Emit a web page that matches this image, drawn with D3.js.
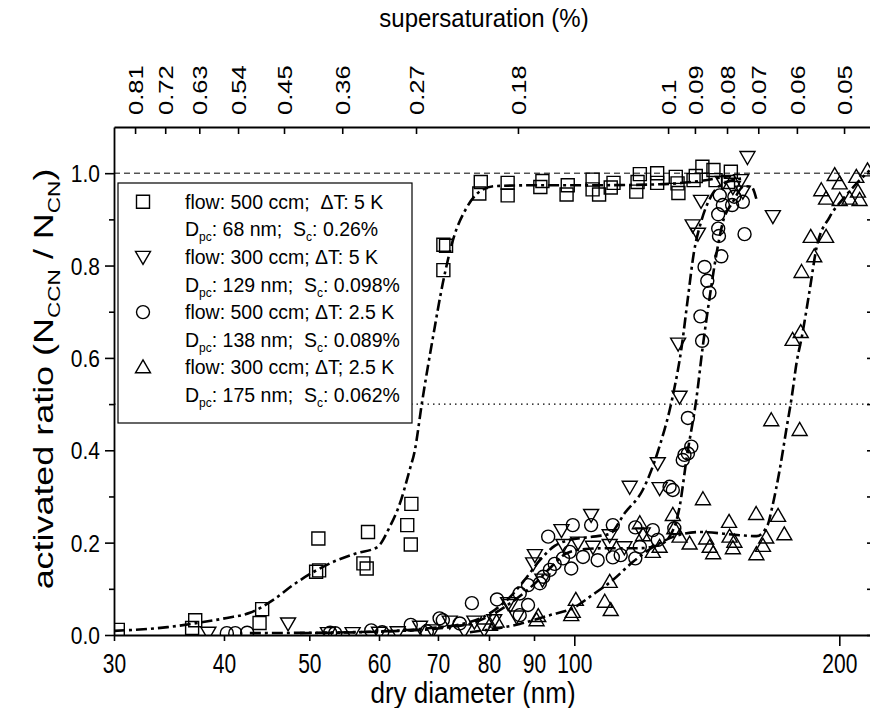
<!DOCTYPE html>
<html>
<head>
<meta charset="utf-8">
<script src="https://cdn.jsdelivr.net/npm/d3@7"></script>
<style>
  body { margin: 0; background: #fff; }
  svg { display: block; }
  text { font-family: "Liberation Sans", Arial, Helvetica, sans-serif; fill: #000; }
</style>
</head>
<body>
<div id="chart"></div>
<script>
// measured points: [dry diameter (nm), activated ratio]
var squares = [[30.3,0.011],[37.1,0.032],[36.8,0.015],[43.9,0.026],[44.2,0.056],[50.9,0.137],[51.3,0.14],
  [51.2,0.209],[58.3,0.223],[57.6,0.155],[58.1,0.144],[64.6,0.238],[65.3,0.284],[65.2,0.196],
  [71.0,0.845],[71.5,0.843],[71.0,0.79],[78.3,0.981],[78.0,0.956],[84.0,0.979],[84.0,0.952],
  [91.5,0.97],[92,0.983],[98.3,0.974],[98.0,0.954],[104.9,0.986],[104.9,0.965],[106.7,0.954],
  [110.8,0.979],[110,0.969],[117.6,0.96],[118.7,0.998],[118,0.981],[124.2,1.0],[124.2,0.979],
  [130.4,0.992],[131,0.978],[131.3,0.957],[136.6,0.985],[137.4,0.994],[139.8,1.014],
  [143.9,1.007],[144.7,0.985],[150.6,1.003],[149.5,0.981]];

var downTri = [[38.4,0.005],[47.3,0.025],[52.5,0.004],[56,0.004],[60,0.005],[63,0.006],[66.8,0.018],
  [69,0.01],[72.2,0.029],[75,0.01],[77,0.029],[79,0.012],[81.1,0.032],[84.1,0.069],[84.6,0.065],
  [86,0.04],[89.8,0.155],[90.2,0.173],[92,0.12],[96.7,0.227],[97.2,0.195],[101,0.2],[104.5,0.26],
  [105,0.191],[109.7,0.216],[109.7,0.195],[114,0.19],[115.6,0.321],[119.6,0.22],[124.4,0.372],
  [125,0.318],[131.2,0.631],[131.7,0.516],[136.3,0.887],[138.2,0.869],[139.3,0.94],[147.5,0.981],
  [151.4,0.97],[154.7,0.985],[155.4,0.96],[157.3,1.035],[168.1,0.907]];

var circles = [[40.3,0.004],[41.2,0.004],[42.5,0.005],[52.8,0.005],[53.5,0.004],[58.8,0.01],[60.5,0.006],
  [65.2,0.022],[68,0.008],[70.3,0.036],[70.9,0.032],[74.1,0.025],[76.5,0.069],[81.7,0.077],
  [86.7,0.09],[88.6,0.108],[88.6,0.065],[86.7,0.043],[91.4,0.112],[92.2,0.126],[93.8,0.141],
  [95,0.154],[97.1,0.166],[99.2,0.144],[93.4,0.213],[99.6,0.238],[104.5,0.238],[110.6,0.238],
  [98.8,0.18],[102.3,0.169],[106.3,0.162],[110.6,0.168],[112.9,0.173],[117.3,0.233],[117.3,0.166],
  [118.7,0.191],[122.8,0.227],[124.4,0.206],[128.3,0.321],[129.4,0.314],[129.9,0.231],[132.8,0.379],
  [133.4,0.39],[134.6,0.393],[135.8,0.408],[134.6,0.47],[139.7,0.637],[139.1,0.69],[142.4,0.741],
  [141.6,0.767],[140.6,0.797],[146.9,0.82],[146,0.864],[145.7,0.88],[156.1,0.868],[145.7,0.911],
  [147.5,0.931],[146.3,0.952],[151.1,0.931],[155.4,0.938],[152,0.949]];

var upTri = [[80.2,0.022],[81.6,0.029],[90.6,0.032],[91,0.041],[99.6,0.05],[100.4,0.076],[99.2,0.043],
  [108.3,0.072],[110,0.054],[109.7,0.115],[118.7,0.242],[119.7,0.216],[122.8,0.18],[125,0.191],
  [129.4,0.26],[129.9,0.231],[131.7,0.213],[135.2,0.198],[140,0.294],[141.2,0.209],[142.5,0.191],
  [143.8,0.177],[149.9,0.245],[150.1,0.213],[151.4,0.188],[152,0.202],[160.9,0.262],[165.2,0.211],
  [163.8,0.193],[161,0.175],[170.4,0.258],[173.2,0.218],[167.4,0.465],[180.3,0.444],[177,0.639],
  [180.8,0.656],[181.2,0.786],[187.3,0.82],[185.6,0.862],[193.2,0.862],[190.8,0.963],[193.2,0.945],
  [197.6,0.996],[200.2,0.978],[200.2,0.942],[205.5,0.945],[209.1,0.992],[210,0.96],[210.9,0.942],
  [215.3,1.006]];

// fitted curves
var squaresFit = [[30,0.009],[34.5,0.017],[37.3,0.026],[40.3,0.037],[42.8,0.048],[45.5,0.076],[47.9,0.108],
  [50.5,0.136],[53.2,0.158],[56.6,0.177],[59.7,0.19],[61.7,0.234],[63.4,0.286],[65.0,0.357],[65.9,0.4],
  [67.1,0.5],[69.1,0.645],[70.9,0.762],[72.8,0.855],[75.5,0.926],[77.7,0.957],[81.2,0.972],[91.4,0.974],
  [106.9,0.974],[125,0.976],[138.8,0.983],[150.1,0.994]];
var downTriFit = [[42.8,0.004],[55.6,0.006],[66.8,0.013],[76.1,0.028],[81.2,0.054],[84.5,0.082],[87.8,0.119],
  [91.4,0.162],[95.0,0.193],[98.8,0.206],[104.1,0.212],[109.7,0.219],[114.1,0.264],[119.6,0.314],[125,0.409],
  [129.3,0.515],[132.4,0.623],[134.5,0.725],[136.7,0.827],[139.5,0.898],[143.2,0.952],[149,0.981],[156.1,0.989]];
var circlesFit = [[48.8,0.004],[63.4,0.009],[72.2,0.017],[76.7,0.026],[82.3,0.054],[86.7,0.084],[90.6,0.115],
  [94.3,0.149],[98.0,0.177],[102.8,0.186],[109.7,0.188],[118.7,0.188],[125,0.195],[129,0.221],[131.7,0.277],
  [134.2,0.385],[137.7,0.515],[139.9,0.623],[142.5,0.732],[145.1,0.827],[147.4,0.892],[151.3,0.937],
  [156.1,0.972],[159,0.97],[161.1,0.942]];
var upTriFit = [[76.1,0.006],[86.7,0.024],[93.8,0.043],[99.6,0.058],[104.9,0.087],[110.6,0.119],[116.5,0.158],
  [122.8,0.19],[129.3,0.212],[138.8,0.223],[154.1,0.216],[161.1,0.214],[165.8,0.238],[167.9,0.279],
  [171.1,0.357],[174.3,0.45],[176.6,0.515],[178.9,0.591],[181.3,0.645],[185.1,0.747],[188.5,0.84],
  [195,0.905],[202.3,0.946],[209.8,0.98],[216.5,1.006]];

// axes
var diamTicks = [30, 40, 50, 60, 70, 80, 90, 100, 200];
var diamMajor = [100, 200];
var ratioMajor = [0, 0.2, 0.4, 0.6, 0.8, 1.0];
var ratioMinor = [0.1, 0.3, 0.5, 0.7, 0.9];
var ssLabels = ["0.81","0.72","0.63","0.54","0.45","0.36","0.27","0.18","0.1","0.09","0.08","0.07","0.06","0.05"];
var ssDiam = [31.7, 34.3, 37.5, 41.5, 46.8, 54.5, 66.1, 86.3, 127.8, 137.1, 149.1, 161.8, 179.0, 202.5];

// legend
var legendFlow = ["flow: 500 ccm;  \u0394T: 5 K", "flow: 300 ccm; \u0394T: 5 K",
                  "flow: 500 ccm; \u0394T: 2.5 K", "flow: 300 ccm; \u0394T; 2.5 K"];
var legendDpc = ["68", "129", "138", "175"];
var legendSc = ["0.26", "0.098", "0.089", "0.062"];
var legendShape = ["square", "down", "circle", "up"];

var W = 870, H = 708;
var pLeft = 114, pRight = 874, pTop = 127, pBottom = 635;
var stretch = 1.28;   // the original figure is taller than wide, glyphs look stretched

var x = d3.scaleLog().domain([30, 219]).range([pLeft, pRight]);
var y = d3.scaleLinear().domain([0, 1.1]).range([pBottom, pTop]);

var svg = d3.select("#chart").append("svg")
    .attr("width", W).attr("height", H);

svg.append("clipPath").attr("id", "plot")
  .append("rect").attr("x", pLeft).attr("y", pTop)
  .attr("width", pRight - pLeft).attr("height", pBottom - pTop);

// reference lines at 1.0 and 0.5
svg.append("line")
    .attr("x1", pLeft).attr("x2", pRight).attr("y1", y(1)).attr("y2", y(1))
    .attr("stroke", "#000").attr("stroke-width", 1).attr("stroke-dasharray", "6,4");
svg.append("line")
    .attr("x1", pLeft).attr("x2", pRight).attr("y1", y(0.5)).attr("y2", y(0.5))
    .attr("stroke", "#000").attr("stroke-width", 1.2).attr("stroke-dasharray", "1.5,4");

function shape(kind) {
  if (kind == "square") return "M-6.5,-6.5H6.5V6.5H-6.5Z";
  if (kind == "up") return "M0,-7.5L7.5,5.5L-7.5,5.5Z";
  if (kind == "down") return "M0,7.5L7.5,-5.5L-7.5,-5.5Z";
  return "M6.5,0A6.5,6.5 0 1,1 -6.5,0A6.5,6.5 0 1,1 6.5,0Z";
}

var plot = svg.append("g").attr("clip-path", "url(#plot)");

function drawPoints(pts, kind) {
  plot.append("g").selectAll("path")
    .data(pts)
    .enter()
    .append("path")
    .attr("d", shape(kind))
    .attr("transform", function(d) { return "translate(" + x(d[0]) + "," + y(d[1]) + ")"; })
    .attr("fill", "none")
    .attr("stroke", "#000")
    .attr("stroke-width", 1.4);
}
drawPoints(squares, "square");
drawPoints(downTri, "down");
drawPoints(circles, "circle");
drawPoints(upTri, "up");

var line = d3.line()
    .x(function(d) { return x(d[0]); })
    .y(function(d) { return y(d[1]); })
    .curve(d3.curveMonotoneX);

[squaresFit, downTriFit, circlesFit, upTriFit].forEach(function(f) {
  plot.append("path")
    .attr("d", line(f))
    .attr("fill", "none")
    .attr("stroke", "#000")
    .attr("stroke-width", 2.6)
    .attr("stroke-dasharray", "11,4,3,4");
});

// bottom axis
var xAxis = svg.append("g")
    .attr("transform", "translate(0," + pBottom + ")")
    .call(d3.axisBottom(x).tickValues(diamTicks).tickSize(6).tickSizeOuter(0)
          .tickFormat(function(d) { return d; }));
xAxis.selectAll(".tick line")
    .attr("y2", function(d) { return diamMajor.indexOf(d) >= 0 ? 11 : 6; })
    .attr("stroke-width", 1.6);
xAxis.selectAll(".tick text")
    .attr("y", 0).attr("dy", 0)
    .attr("transform", "translate(0,38) scale(1," + stretch + ")")
    .attr("font-size", "21px");
xAxis.select(".domain").attr("stroke-width", 1.8);

// top axis: supersaturation
var topAxis = svg.append("g")
    .attr("transform", "translate(0," + pTop + ")")
    .call(d3.axisTop(x).tickValues(ssDiam).tickSize(-7).tickSizeOuter(0)
          .tickFormat(function(d, i) { return ssLabels[i]; }));
topAxis.selectAll(".tick line").attr("stroke-width", 1.6);
topAxis.selectAll(".tick text")
    .attr("transform", "rotate(-90) scale(" + stretch + ",1)")
    .attr("x", 12 / stretch).attr("y", 0).attr("dy", "0.36em")
    .attr("text-anchor", "start")
    .attr("font-size", "20px");
topAxis.select(".domain").attr("stroke-width", 1.8);

// left axis
var yAxis = svg.append("g")
    .attr("transform", "translate(" + pLeft + ",0)")
    .call(d3.axisLeft(y).tickValues(ratioMajor).tickSize(9).tickSizeOuter(0)
          .tickFormat(d3.format(".1f")));
yAxis.selectAll(".tick line").attr("stroke-width", 1.6);
yAxis.selectAll(".tick text")
    .attr("x", -14).attr("dy", "0.36em")
    .attr("transform", "scale(1,1.15)")
    .attr("font-size", "21px");
yAxis.select(".domain").attr("stroke-width", 1.8);
svg.append("g")
    .attr("transform", "translate(" + pLeft + ",0)")
    .call(d3.axisLeft(y).tickValues(ratioMinor).tickSize(5).tickSizeOuter(0).tickFormat(""))
    .call(function(g) { g.select(".domain").remove(); })
    .selectAll(".tick line").attr("stroke-width", 1.6);

// right axis (mostly outside the crop)
svg.append("g")
    .attr("transform", "translate(" + pRight + ",0)")
    .call(d3.axisLeft(y).tickValues(ratioMajor.concat(ratioMinor)).tickSize(-7).tickSizeOuter(0).tickFormat(""))
    .selectAll(".tick line").attr("x2", -7).attr("stroke-width", 1.6);

// legend
var lg = svg.append("g");
lg.append("rect")
    .attr("x", 118).attr("y", 183).attr("width", 294).attr("height", 240)
    .attr("fill", "#fff").attr("stroke", "#000").attr("stroke-width", 1.2);
var rowH = 27.6, row0 = 201.7;
legendFlow.forEach(function(t, i) {
  var cy1 = row0 + rowH * 2 * i, cy2 = cy1 + rowH;
  lg.append("path").attr("d", shape(legendShape[i]))
    .attr("transform", "translate(143," + cy1 + ")")
    .attr("fill", "none").attr("stroke", "#000").attr("stroke-width", 1.4);
  lg.append("text").attr("x", 185).attr("y", cy1).attr("dy", "0.36em")
    .attr("font-size", "19.5px").style("white-space", "pre").text(t);
  var t2 = lg.append("text").attr("x", 185).attr("y", cy2).attr("dy", "0.36em")
    .attr("font-size", "19.5px").style("white-space", "pre");
  t2.append("tspan").text("D");
  t2.append("tspan").attr("font-size", "12px").attr("dy", 5).text("pc");
  t2.append("tspan").attr("dy", -5).text(": " + legendDpc[i] + " nm;  S");
  t2.append("tspan").attr("font-size", "12px").attr("dy", 5).text("c");
  t2.append("tspan").attr("dy", -5).text(": " + legendSc[i] + "%");
});

// titles
svg.append("text")
    .attr("transform", "translate(484,27) scale(1,1.1)")
    .attr("text-anchor", "middle")
    .attr("font-size", "24px").text("supersaturation (%)");
svg.append("text")
    .attr("transform", "translate(473,703) scale(1,1.12)")
    .attr("text-anchor", "middle")
    .attr("font-size", "26px").text("dry diameter (nm)");

var yl = svg.append("text")
    .attr("transform", "translate(53,379) rotate(-90) scale(1.33,1)")
    .attr("text-anchor", "middle")
    .attr("font-size", "27px");
yl.append("tspan").text("activated ratio (N");
yl.append("tspan").attr("font-size", "17px").attr("dy", 7).text("CCN");
yl.append("tspan").attr("dy", -7).text(" / N");
yl.append("tspan").attr("font-size", "17px").attr("dy", 7).text("CN");
yl.append("tspan").attr("dy", -7).text(")");
</script>
</body>
</html>
